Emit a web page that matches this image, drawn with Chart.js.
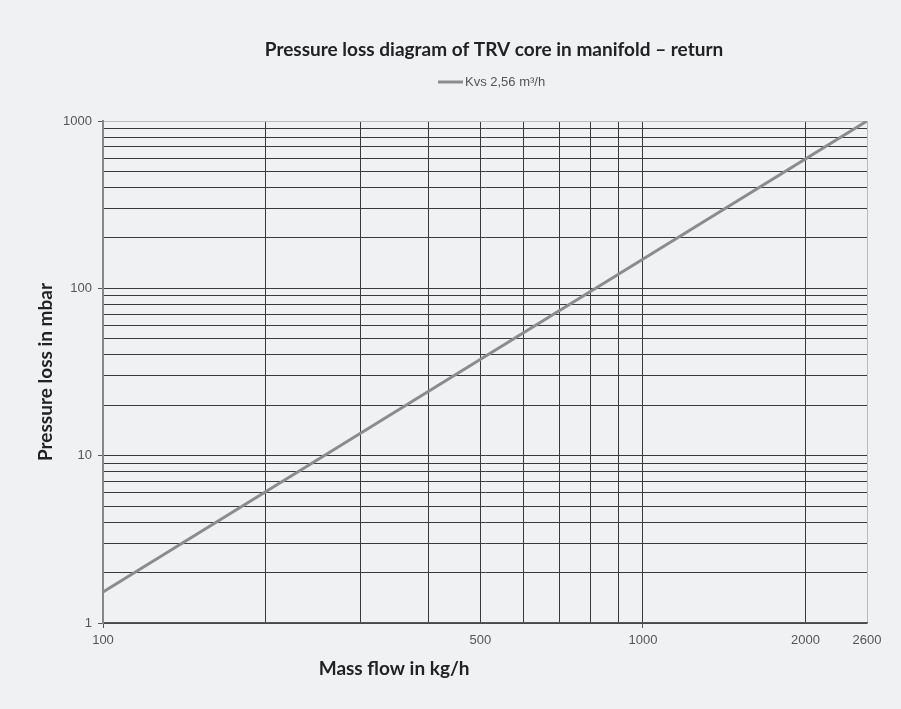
<!DOCTYPE html>
<html>
<head>
<meta charset="utf-8">
<script src="https://cdn.jsdelivr.net/npm/chart.js@4.4.1/dist/chart.umd.min.js"></script>
<style>
  html, body { margin: 0; padding: 0; background: #f0f1f3; }
  #wrap { width: 901px; height: 709px; }
</style>
</head>
<body>
<div id="wrap"><canvas id="myChart" width="901" height="709"></canvas></div>
<script>
// data
var massFlow = [100, 2600];          // kg/h
var pressureLoss = [1.53, 1000];     // mbar
var seriesName = 'Kvs 2,56 m\u00B3/h';

var xGrid = [100, 200, 300, 400, 500, 600, 700, 800, 900, 1000, 2000, 2600];
var xLabels = [100, 500, 1000, 2000, 2600];
var yGrid = [1, 2, 3, 4, 5, 6, 7, 8, 9, 10, 20, 30, 40, 50, 60, 70, 80, 90,
             100, 200, 300, 400, 500, 600, 700, 800, 900, 1000];
var yLabels = [1, 10, 100, 1000];

var points = [];
for (var i = 0; i < massFlow.length; i++) {
    points.push({ x: massFlow[i], y: pressureLoss[i] });
}

// title, legend and x title are off-centre in the original, so they are drawn by hand
var headings = {
    id: 'headings',
    afterDraw: function (chart) {
        var ctx = chart.ctx;
        var a = chart.chartArea;
        var ds = chart.data.datasets[0];
        ctx.save();
        ctx.fillStyle = '#222';
        ctx.textAlign = 'center';
        ctx.textBaseline = 'middle';
        ctx.font = 'bold 19px Lato';
        ctx.fillText('Pressure loss diagram of TRV core in manifold \u2013 return', 494, 50);
        ctx.fillText('Mass flow in kg/h', a.left + (a.right - a.left) * 0.381, 669);

        // legend
        ctx.strokeStyle = ds.borderColor;
        ctx.lineWidth = 3;
        ctx.beginPath();
        ctx.moveTo(438, 82);
        ctx.lineTo(463, 82);
        ctx.stroke();
        ctx.font = '13px "Liberation Sans"';
        ctx.fillStyle = '#555';
        ctx.textAlign = 'left';
        ctx.fillText(ds.label, 465, 82);
        ctx.restore();
    }
};

var ctx = document.getElementById('myChart').getContext('2d');
var myChart = new Chart(ctx, {
    type: 'line',
    data: {
        datasets: [{
            label: seriesName,
            data: points,
            borderColor: '#8c8c8c',
            backgroundColor: '#8c8c8c',
            borderWidth: 3,
            pointRadius: 0,
            tension: 0
        }]
    },
    options: {
        responsive: false,
        animation: false,
        layout: { padding: { left: 34, right: 34, top: 121, bottom: 0 } },
        plugins: {
            title: { display: false },
            legend: { display: false },
            tooltip: { enabled: false }
        },
        scales: {
            x: {
                type: 'logarithmic',
                min: 100,
                max: 2600,
                afterBuildTicks: function (scale) {
                    scale.ticks = xGrid.map(function (v) { return { value: v }; });
                },
                afterFit: function (scale) { scale.height = 86; },
                ticks: {
                    autoSkip: false,
                    maxRotation: 0,
                    color: '#555',
                    font: { family: 'Liberation Sans', size: 13 },
                    padding: 5,
                    callback: function (v) { return xLabels.indexOf(v) >= 0 ? String(v) : ''; }
                },
                grid: {
                    color: function (c) { return c.tick && c.tick.value === 2600 ? '#bbbbbb' : '#3a3a3a'; },
                    lineWidth: 1,
                    tickLength: 5,
                    tickColor: function (c) {
                        return c.tick && (c.tick.value === 100 || c.tick.value === 1000) ? '#555' : 'rgba(0,0,0,0)';
                    }
                },
                border: { color: '#555', width: 1.5 },
                title: { display: false }
            },
            y: {
                type: 'logarithmic',
                min: 1,
                max: 1000,
                afterBuildTicks: function (scale) {
                    scale.ticks = yGrid.map(function (v) { return { value: v }; });
                },
                afterFit: function (scale) { scale.width = 69; },
                ticks: {
                    autoSkip: false,
                    color: '#555',
                    font: { family: 'Liberation Sans', size: 13 },
                    padding: 6,
                    callback: function (v) { return yLabels.indexOf(v) >= 0 ? String(v) : ''; }
                },
                grid: {
                    color: function (c) { return c.tick && c.tick.value === 1000 ? '#bbbbbb' : '#3a3a3a'; },
                    lineWidth: 1,
                    tickLength: 5,
                    tickColor: function (c) {
                        return c.tick && yLabels.indexOf(c.tick.value) >= 0 ? '#555' : 'rgba(0,0,0,0)';
                    }
                },
                border: { color: '#888', width: 2 },
                title: {
                    display: true,
                    text: 'Pressure loss in mbar',
                    color: '#222',
                    font: { family: 'Lato', size: 19, weight: 'bold' },
                    padding: { top: 0, bottom: 0 }
                }
            }
        }
    },
    plugins: [headings]
});
</script>
</body>
</html>
